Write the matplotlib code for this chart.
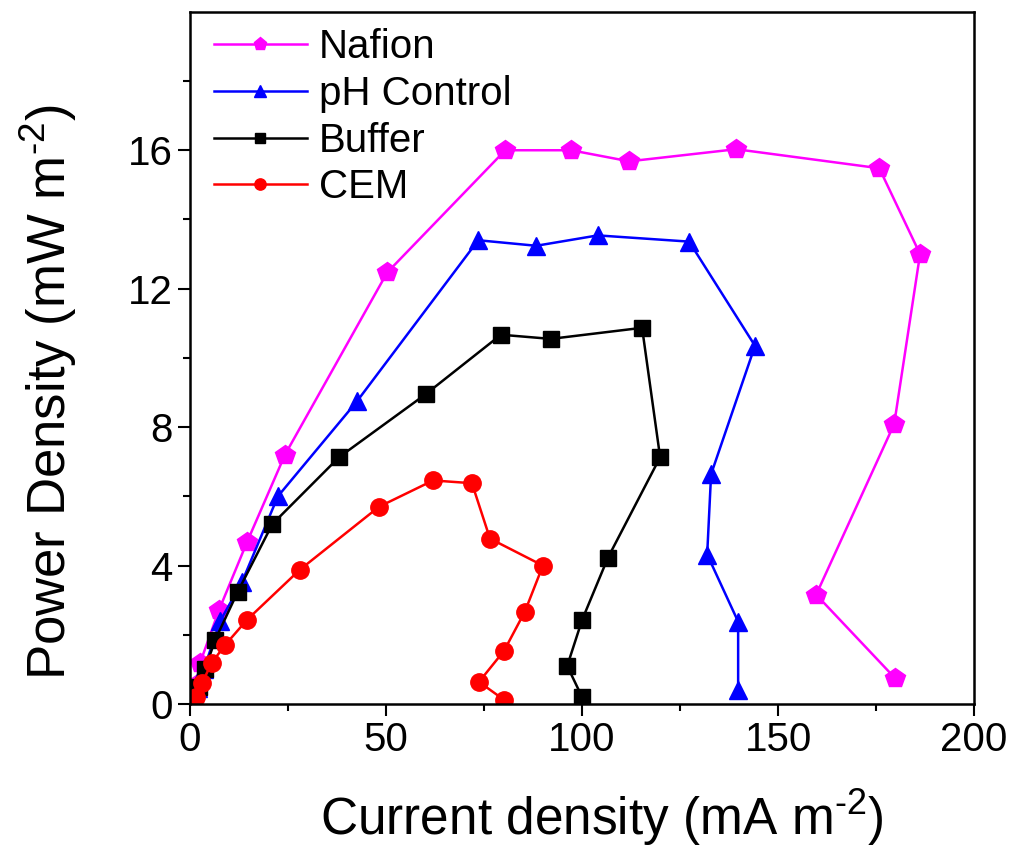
import numpy as np
import matplotlib
matplotlib.use('Agg')
import matplotlib.pyplot as plt

# Data (current density mA m-2, power density mW m-2)
nafion_x = [0.5, 1.0, 1.5, 2.6, 7.4, 14.5, 24.2, 50.3, 80.4, 97.2, 112.0, 139.3, 175.8, 186.2, 179.6, 159.7, 179.8]
nafion_y = [0.08, 0.25, 0.55, 1.2, 2.72, 4.67, 7.2, 12.47, 16.0, 16.0, 15.68, 16.03, 15.48, 13.0, 8.09, 3.16, 0.75]

ph_x = [1.0, 2.0, 3.5, 7.7, 13.3, 22.4, 42.6, 73.5, 88.3, 104.0, 127.3, 144.1, 132.9, 131.9, 139.8, 139.8]
ph_y = [0.1, 0.45, 1.0, 2.4, 3.54, 6.0, 8.75, 13.4, 13.24, 13.54, 13.36, 10.35, 6.64, 4.32, 2.38, 0.41]

buf_x = [1.0, 2.2, 3.8, 6.4, 12.2, 21.0, 38.0, 60.2, 79.3, 92.0, 115.3, 119.9, 106.6, 100.0, 96.2, 100.0]
buf_y = [0.15, 0.5, 1.0, 1.85, 3.25, 5.2, 7.13, 8.96, 10.67, 10.55, 10.87, 7.13, 4.23, 2.43, 1.1, 0.2]

cem_x = [1.5, 3.0, 5.6, 8.9, 14.5, 28.0, 48.2, 62.0, 71.9, 76.5, 90.0, 85.4, 80.1, 73.7, 80.1]
cem_y = [0.2, 0.6, 1.2, 1.7, 2.43, 3.88, 5.7, 6.46, 6.38, 4.78, 4.0, 2.67, 1.54, 0.64, 0.12]

plt.rcParams['font.family'] = ['Liberation Sans', 'DejaVu Sans']
plt.rcParams['mathtext.fontset'] = 'custom'
plt.rcParams['mathtext.rm'] = 'Liberation Sans'
plt.rcParams['mathtext.it'] = 'Liberation Sans'

fig = plt.figure(figsize=(10.19, 8.61), dpi=100)
ax = fig.add_axes([0.1865, 0.1823, 0.7695, 0.804])

lw = 1.8
ax.plot(nafion_x, nafion_y, '-', color='#ff00ff', lw=lw, marker='p', ms=15, mec='#ff00ff', label='Nafion')
ax.plot(ph_x, ph_y, '-', color='#0000ff', lw=lw, marker='^', ms=13, mec='#0000ff', label='pH Control')
ax.plot(buf_x, buf_y, '-', color='black', lw=lw, marker='s', ms=11.5, mec='black', label='Buffer')
ax.plot(cem_x, cem_y, '-', color='#ff0000', lw=lw, marker='o', ms=12.5, mec='#ff0000', label='CEM')

ax.set_xlim(0, 200)
ax.set_ylim(0, 20)
ax.set_xticks([0, 50, 100, 150, 200])
ax.set_xticks([25, 75, 125, 175], minor=True)
ax.set_yticks([0, 4, 8, 12, 16])
ax.set_yticks([2, 6, 10, 14, 18], minor=True)

ax.tick_params(which='major', direction='out', length=8.5, width=1.5, labelsize=29, pad=4)
ax.tick_params(which='minor', direction='out', length=5, width=1.5)
for s in ax.spines.values():
    s.set_linewidth(1.8)

ax.set_xlabel(r'Current density (mA m$^{\text{-}2}$)', fontsize=37)
ax.set_ylabel(r'Power Density (mW m$^{\text{-}2}$)', fontsize=38)
ax.xaxis.set_label_coords(0.525, -0.12)
ax.yaxis.set_label_coords(-0.142, 0.45)

ax.legend(loc='upper left', fontsize=29, frameon=False, markerscale=0.65,
          handlelength=2.3, labelspacing=0.22, handletextpad=0.3,
          borderaxespad=0.0, bbox_to_anchor=(0.01, 1.0))

fig.savefig('out.png', dpi=100)
